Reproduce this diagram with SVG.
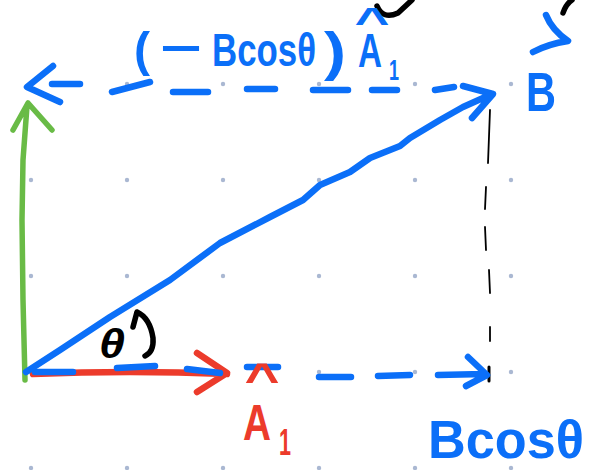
<svg xmlns="http://www.w3.org/2000/svg" width="589" height="470" viewBox="0 0 589 470">
<style>
.dot{fill:#aab8d2}
.s{fill:none;stroke-linecap:round;stroke-linejoin:round}
.blue{stroke:#0b6ff8;stroke-width:6.5}
.red{stroke:#ec3b2b;stroke-width:6.5}
.green{stroke:#69bb46;stroke-width:5.5}
.blk{stroke:#000;stroke-width:5.5}
.thin{stroke:#000;stroke-width:1.8}
.t{font-family:"Liberation Sans",Arial,sans-serif;font-weight:bold}
.tb{fill:#0b6ff8}
.tr{fill:#ec3b2b}
.tk{fill:#000}
</style>
<rect width="589" height="470" fill="#fff"/>
<g id="grid">
<circle class="dot" cx="31" cy="84" r="2.2"/><circle class="dot" cx="127" cy="84" r="2.2"/><circle class="dot" cx="223" cy="84" r="2.2"/><circle class="dot" cx="319" cy="84" r="2.2"/><circle class="dot" cx="415" cy="84" r="2.2"/><circle class="dot" cx="511" cy="84" r="2.2"/>
<circle class="dot" cx="31" cy="180" r="2.2"/><circle class="dot" cx="127" cy="180" r="2.2"/><circle class="dot" cx="223" cy="180" r="2.2"/><circle class="dot" cx="319" cy="180" r="2.2"/><circle class="dot" cx="415" cy="180" r="2.2"/><circle class="dot" cx="511" cy="180" r="2.2"/>
<circle class="dot" cx="31" cy="276" r="2.2"/><circle class="dot" cx="127" cy="276" r="2.2"/><circle class="dot" cx="223" cy="276" r="2.2"/><circle class="dot" cx="319" cy="276" r="2.2"/><circle class="dot" cx="415" cy="276" r="2.2"/><circle class="dot" cx="511" cy="276" r="2.2"/>
<circle class="dot" cx="31" cy="372" r="2.2"/><circle class="dot" cx="127" cy="372" r="2.2"/><circle class="dot" cx="223" cy="372" r="2.2"/><circle class="dot" cx="319" cy="372" r="2.2"/><circle class="dot" cx="415" cy="372" r="2.2"/><circle class="dot" cx="511" cy="372" r="2.2"/>
<circle class="dot" cx="31" cy="468" r="2.2"/><circle class="dot" cx="127" cy="468" r="2.2"/><circle class="dot" cx="223" cy="468" r="2.2"/><circle class="dot" cx="319" cy="468" r="2.2"/><circle class="dot" cx="415" cy="468" r="2.2"/><circle class="dot" cx="511" cy="468" r="2.2"/>
</g>
<g id="connectors">
<path id="vert-dashed" class="s thin" d="M490,110 L488,163 M486,187 L485,209 M485,227 L486,250 M489,270 L490,293 M490,327 L490,341"/>
<path class="s" stroke="#000" stroke-width="3" d="M489,367 L489,381"/>
<path id="green-vector" class="s green" d="M25,380 L23,300 L22,220 L23,160 L27,106 M13,130 L28,103 L52,130"/>
<path id="red-vector" class="s red" d="M33,374 Q130,370 227,374 M197,353 L227,373 L197,392"/>
<path id="bottom-dashed" class="s blue" d="M35,372 L73,372 M117,368 L155,366 M187,369 L220,373 M247,367 L278,367 M319,377 L351,377 M378,376 L410,375 M438,375 L484,374 M468,357 L487,375 L466,386"/>
<path id="top-dashed" class="s blue" d="M53,66 L27,87 L60,102 M52,84 L80,84 M112,92 L150,82 M173,92 L208,92 M247,89 L275,89 M313,90 L348,90 M372,90 L397,90 M435,90 L454,87"/>
<path id="b-vector" class="s blue" d="M26,372 L60,350 L110,317 L170,280 L220,243 L270,217 L303,200 L320,185 L350,172 L370,158 L400,146 L410,138 L440,120 L463,107 L492,94 M463,86 L493,94 L472,118"/>
<path id="theta-arrow" class="s blk" d="M133,327 L137,312 Q150,318 153,338 Q154,352 145,356"/>
<path id="b-arrow-mark" class="s blue" d="M546,15 Q552,30 568,41 Q548,44 533,52"/>
<path class="s blk" d="M377,6 Q383,20 398,13 L412,0 M563,13 Q566,4 572,0"/>
</g>
<g id="label-top">
<text class="t tb" x="134" y="66" font-size="48" textLength="16" lengthAdjust="spacingAndGlyphs">(</text>
<text class="t tb" x="160" y="64" font-size="46" textLength="42" lengthAdjust="spacingAndGlyphs">−</text>
<text class="t tb" x="212" y="66" font-size="46" textLength="104" lengthAdjust="spacingAndGlyphs">Bcosθ</text>
<text class="t tb" x="324" y="70" font-size="54" textLength="22" lengthAdjust="spacingAndGlyphs">)</text>
<text class="t tb" font-size="20" text-anchor="middle" transform="translate(372,35) scale(3,1.9)">^</text>
<text class="t tb" x="358" y="67" font-size="48" textLength="24" lengthAdjust="spacingAndGlyphs">A</text>
<text class="t tb" x="389" y="80" font-size="30" textLength="10" lengthAdjust="spacingAndGlyphs">1</text>
</g>
<g id="label-B">
<text class="t tb" x="526" y="111" font-size="56" textLength="30" lengthAdjust="spacingAndGlyphs">B</text>
</g>
<g id="label-theta">
<text class="t tk" x="99" y="358" font-size="40" font-style="italic" textLength="26" lengthAdjust="spacingAndGlyphs">θ</text>
</g>
<g id="label-A1">
<text class="t tr" font-size="20" text-anchor="middle" transform="translate(262,394) scale(3,2.2)">^</text>
<text class="t tr" x="243" y="440" font-size="50" textLength="28" lengthAdjust="spacingAndGlyphs">A</text>
<text class="t tr" x="279" y="455" font-size="36" textLength="12" lengthAdjust="spacingAndGlyphs">1</text>
</g>
<g id="label-Bcos">
<text class="t tb" x="428" y="458" font-size="53" textLength="156" lengthAdjust="spacingAndGlyphs">Bcosθ</text>
</g>
</svg>
